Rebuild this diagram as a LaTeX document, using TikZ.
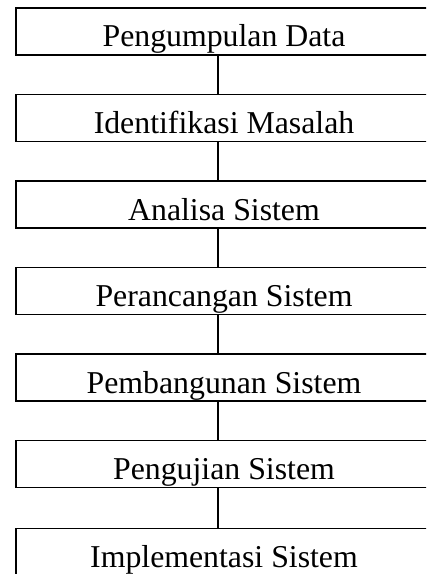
\documentclass[tikz,border=0pt]{standalone}
\usepackage{fontspec}
\setmainfont{Liberation Serif}

\begin{document}
\begin{tikzpicture}[x=0.75pt, y=-0.75pt, line width=1.3pt,
        every node/.style={draw, rectangle, inner sep=0pt, minimum width=312pt, minimum height=35.25pt,
            text height=23.25pt, text depth=0pt, font=\fontsize{23.85pt}{28pt}\selectfont}]
                \clip (0, 0) rectangle (426, 574);

                % Nodes
                \node at (224, 31.5) (b1) {Pengumpulan Data};
                \node at (224, 118) (b2) {Identifikasi Masalah};
                \node at (224, 204.5) (b3) {Analisa Sistem};
                \node at (224, 291) (b4) {Perancangan Sistem};
                \node at (224, 377.5) (b5) {Pembangunan Sistem};
                \node at (224, 464) (b6) {Pengujian Sistem};
                \node at (224, 552) (b7) {Implementasi Sistem};

                % Edges
                \draw ([xshift=-4.5pt]b1.south) -- ([xshift=-4.5pt]b2.north);
                \draw ([xshift=-4.5pt]b2.south) -- ([xshift=-4.5pt]b3.north);
                \draw ([xshift=-4.5pt]b3.south) -- ([xshift=-4.5pt]b4.north);
                \draw ([xshift=-4.5pt]b4.south) -- ([xshift=-4.5pt]b5.north);
                \draw ([xshift=-4.5pt]b5.south) -- ([xshift=-4.5pt]b6.north);
                \draw ([xshift=-4.5pt]b6.south) -- ([xshift=-4.5pt]b7.north);
            \end{tikzpicture}
\end{document}
